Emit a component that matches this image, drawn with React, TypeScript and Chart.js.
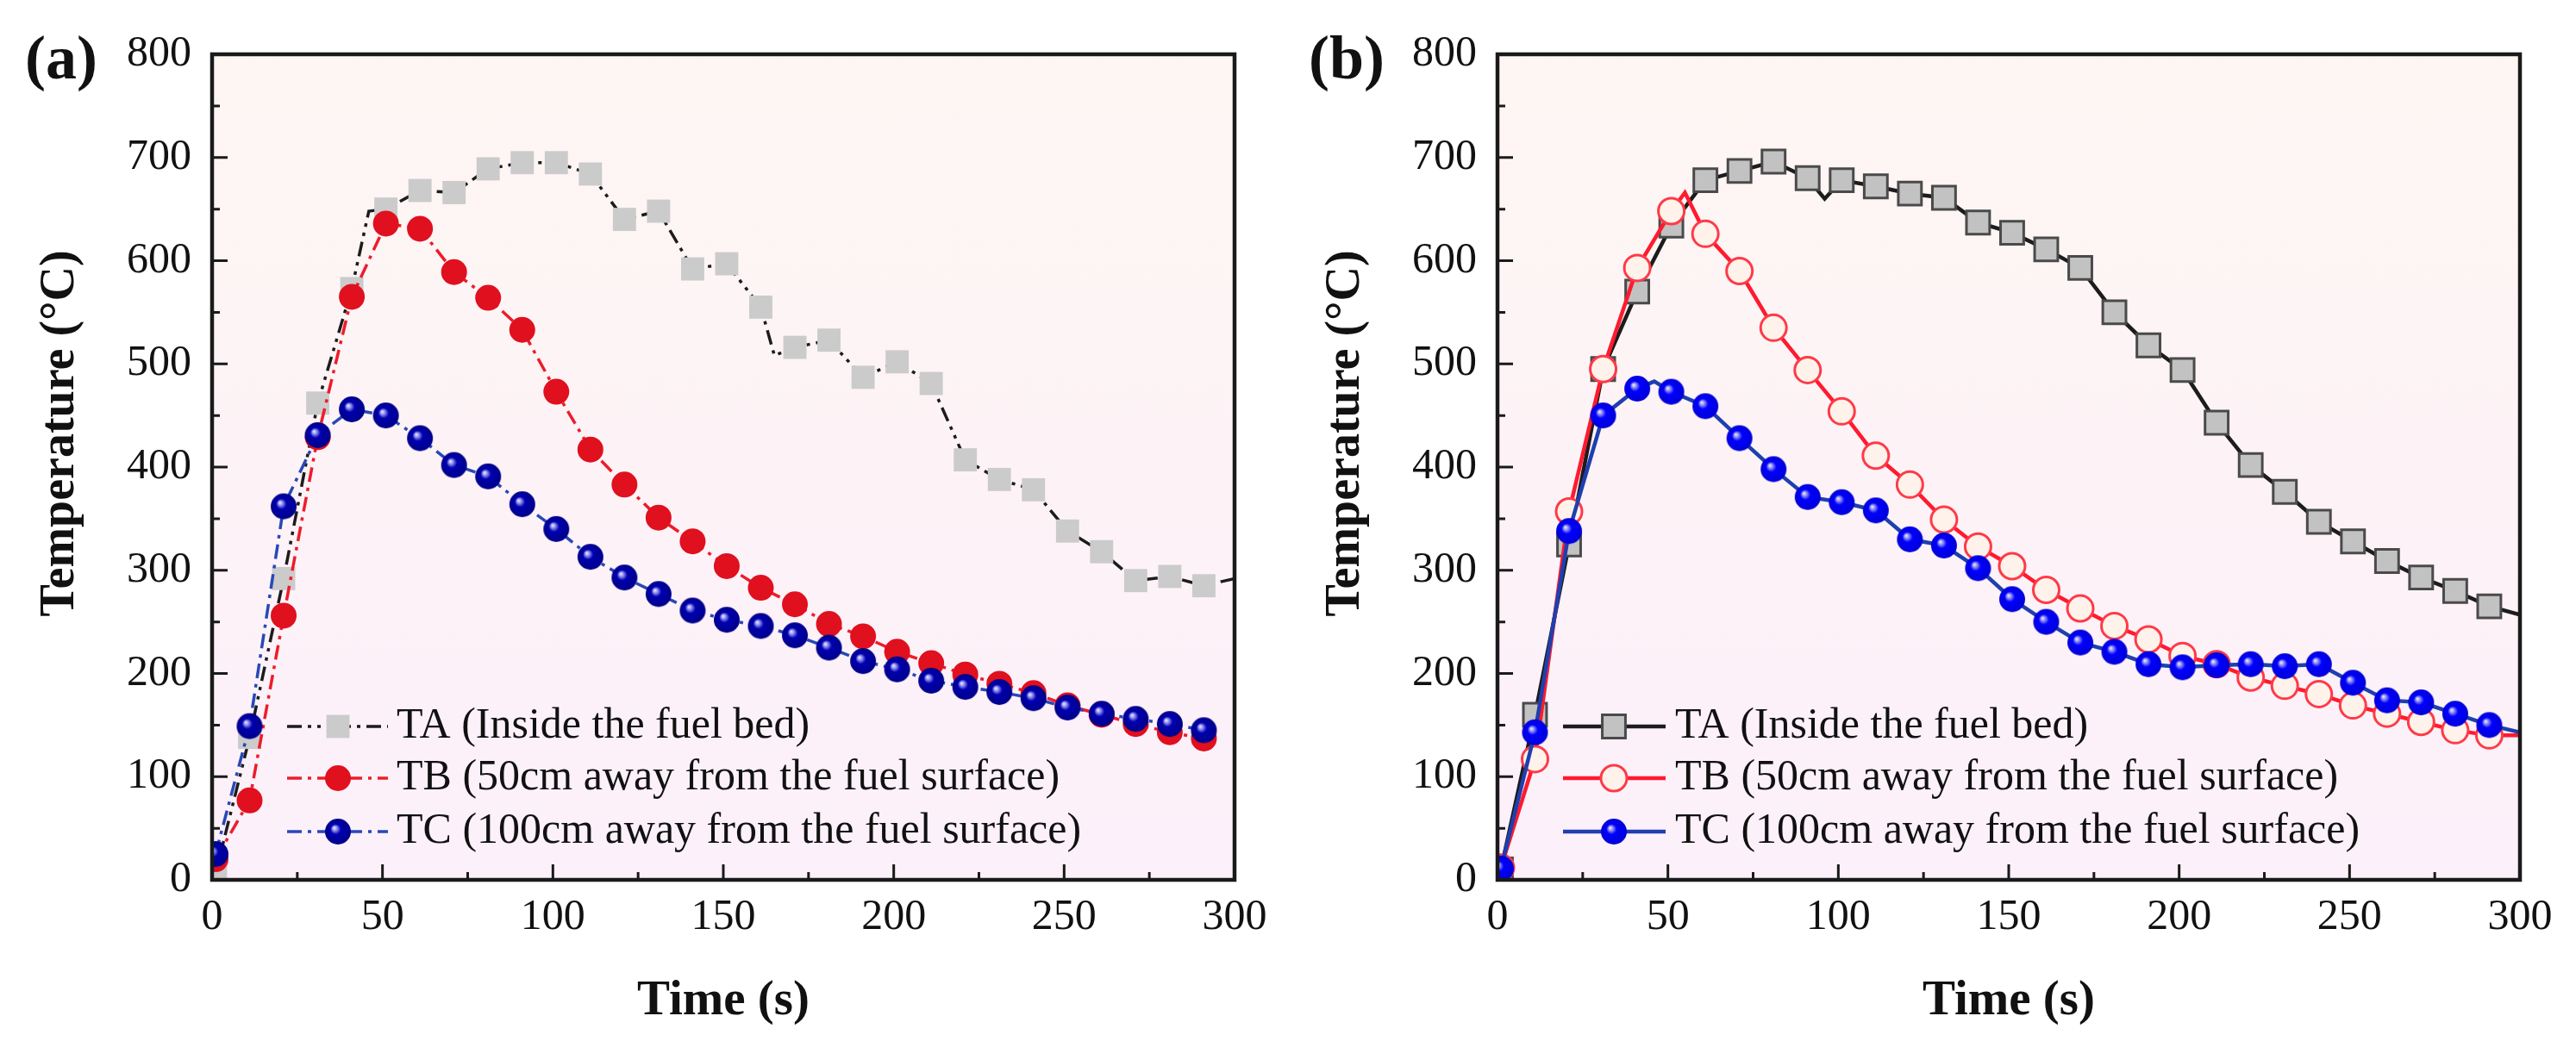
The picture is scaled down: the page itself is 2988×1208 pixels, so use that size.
import React, { useEffect, useRef } from 'react';
import { Chart, registerables } from 'chart.js';

Chart.register(...registerables);

const FONT = "'Liberation Serif', 'Times New Roman', serif";

// axis ranges
const X_MAX = 300;
const X_STEP = 50;
const Y_MAX = 800;
const Y_STEP = 100;

// marker times (s), one marker every 10 s
const MARK_T = [1, 11, 21, 31, 41, 51, 61, 71, 81, 91, 101, 111, 121, 131, 141,
  151, 161, 171, 181, 191, 201, 211, 221, 231, 241, 251, 261, 271, 281, 291];

// (a) temperatures, degC
const TA_A = [6, 138, 292, 462, 573, 650, 668, 666, 689, 695, 695, 684, 640, 648, 592,
  597, 555, 516, 523, 487, 502, 481, 407, 388, 378, 338, 318, 290, 294, 285];
const TB_A = [20, 77, 256, 429, 565, 636, 631, 589, 564, 533, 473, 417, 383, 351, 328,
  304, 283, 267, 248, 236, 221, 210, 199, 190, 181, 169, 160, 151, 143, 137];
const TC_A = [25, 149, 362, 431, 456, 450, 428, 402, 391, 364, 340, 313, 293, 277, 261,
  252, 246, 237, 225, 212, 204, 193, 187, 182, 176, 167, 161, 156, 151, 145];

// (b) temperatures, degC
const TA_B = [10, 160, 325, 495, 570, 634, 678, 687, 696, 680, 678, 672, 665, 661, 637,
  627, 611, 593, 550, 518, 494, 443, 402, 376, 347, 328, 309, 293, 280, 265];
const TB_B = [12, 117, 357, 495, 593, 648, 626, 590, 535, 494, 454, 411, 383, 349, 323,
  304, 281, 263, 246, 233, 217, 209, 196, 188, 180, 169, 161, 153, 145, 140];
const TC_B = [11, 143, 338, 450, 476, 473, 459, 428, 398, 371, 366, 358, 330, 324, 302,
  272, 250, 230, 221, 209, 206, 208, 209, 207, 209, 191, 174, 172, 161, 150];

// line-only samples between markers
const TA_A_EXTRA_T = [46, 165, 300];
const TA_A_EXTRA_V = [648, 508, 292];
const TA_B_EXTRA_T = [96, 300];
const TA_B_EXTRA_V = [660, 257];
const TB_B_EXTRA_T = [55, 300];
const TB_B_EXTRA_V = [666, 140];
const TC_B_EXTRA_T = [46, 300];
const TC_B_EXTRA_V = [483, 143];

const LABELS = [
  'TA (Inside the fuel bed)',
  'TB (50cm away from the fuel surface)',
  'TC (100cm away from the fuel surface)',
];

type Pt = { x: number; y: number; mark: boolean };

function buildPoints(markV: number[], extraT: number[] = [], extraV: number[] = []): Pt[] {
  const pts: Pt[] = MARK_T.map((t, i) => ({ x: t, y: markV[i], mark: true }));
  extraT.forEach((t, i) => pts.push({ x: t, y: extraV[i], mark: false }));
  return pts.sort((p, q) => p.x - q.x);
}

interface SeriesSpec {
  label: string;
  points: Pt[];
  line: string;
  lineWidth: number;
  dash: number[];
  marker: 'rect' | 'circle' | 'sphere';
  radius: number;
  fill: string;
  stroke?: string;
  strokeWidth?: number;
  sphere?: [string, string];
}

const DASH_DOT_DOT = [17, 7, 4, 7, 4, 7];
const DASH_DOT = [17, 7, 4, 7];

const SERIES_A: SeriesSpec[] = [
  { label: LABELS[0], points: buildPoints(TA_A, TA_A_EXTRA_T, TA_A_EXTRA_V), line: '#1c1c1c', lineWidth: 3.5,
    dash: DASH_DOT_DOT, marker: 'rect', radius: 19, fill: '#cbcbcb' },
  { label: LABELS[1], points: buildPoints(TB_A), line: '#ee1c2a', lineWidth: 3.5,
    dash: DASH_DOT, marker: 'circle', radius: 15, fill: '#e0101f' },
  { label: LABELS[2], points: buildPoints(TC_A), line: '#2848b8', lineWidth: 3.5,
    dash: DASH_DOT, marker: 'sphere', radius: 15, fill: '#0000b0', sphere: ['#0000b0', '#00008a'] },
];

const SERIES_B: SeriesSpec[] = [
  { label: LABELS[0], points: buildPoints(TA_B, TA_B_EXTRA_T, TA_B_EXTRA_V), line: '#1c1c1c', lineWidth: 4.5,
    dash: [], marker: 'rect', radius: 19, fill: '#c2c2c2', stroke: '#4a4a4a', strokeWidth: 3 },
  { label: LABELS[1], points: buildPoints(TB_B, TB_B_EXTRA_T, TB_B_EXTRA_V), line: '#ff1a2e', lineWidth: 4.5,
    dash: [], marker: 'circle', radius: 15, fill: '#fff2ea', stroke: '#ff3a48', strokeWidth: 3 },
  { label: LABELS[2], points: buildPoints(TC_B, TC_B_EXTRA_T, TC_B_EXTRA_V), line: '#1f3fb0', lineWidth: 4.5,
    dash: [], marker: 'sphere', radius: 15, fill: '#0000ff', sphere: ['#0000ff', '#0000d8'] },
];

function makeSphere(r: number, core: string, edge: string) {
  const c = document.createElement('canvas');
  const s = Math.ceil(r * 2) + 2;
  c.width = s; c.height = s;
  const g = c.getContext('2d')!;
  const cx = s / 2, cy = s / 2;
  const grad = g.createRadialGradient(cx - r * 0.3, cy - r * 0.3, 0, cx, cy, r);
  grad.addColorStop(0, '#f4f4ff');
  grad.addColorStop(0.18, '#9090f0');
  grad.addColorStop(0.4, core);
  grad.addColorStop(1, edge);
  g.fillStyle = grad;
  g.beginPath(); g.arc(cx, cy, r, 0, Math.PI * 2); g.fill();
  return c;
}

interface PanelProps {
  left: number;
  tag: string;
  series: SeriesSpec[];
  legendX: [number, number, number, number]; // line start, line end, marker, text (from plot left)
}

const W = 1494;
const H = 1208;

function Panel({ left, tag, series, legendX }: PanelProps) {
  const canvasRef = useRef<HTMLCanvasElement>(null);

  useEffect(() => {
    if (!canvasRef.current) return;
    const spheres = series.map(s => s.marker === 'sphere' && s.sphere ? makeSphere(s.radius, s.sphere[0], s.sphere[1]) : null);

    const drawMarker = (ctx: CanvasRenderingContext2D, s: SeriesSpec, img: HTMLCanvasElement | null, x: number, y: number) => {
      if (img) { ctx.drawImage(img, x - img.width / 2, y - img.height / 2); return; }
      ctx.beginPath();
      if (s.marker === 'rect') {
        const h = s.radius * Math.SQRT1_2;
        ctx.rect(x - h, y - h, 2 * h, 2 * h);
      } else {
        ctx.arc(x, y, s.radius, 0, Math.PI * 2);
      }
      ctx.fillStyle = s.fill; ctx.fill();
      if (s.strokeWidth) { ctx.lineWidth = s.strokeWidth; ctx.strokeStyle = s.stroke!; ctx.stroke(); }
    };

    const deco = {
      id: 'deco',
      beforeDraw(chart: Chart) {
        const { ctx, chartArea: a } = chart;
        const g = ctx.createLinearGradient(0, a.top, 0, a.bottom);
        g.addColorStop(0, '#fef6f3');
        g.addColorStop(1, '#fcf0fa');
        ctx.save();
        ctx.fillStyle = g;
        ctx.fillRect(a.left, a.top, a.width, a.height);
        ctx.restore();
      },
      afterDatasetsDraw(chart: Chart) {
        const { ctx, chartArea: a } = chart;
        const xs = chart.scales.x, ys = chart.scales.y;
        ctx.save();
        // inward ticks
        ctx.strokeStyle = '#1a1a1a'; ctx.lineWidth = 3;
        ctx.beginPath();
        for (let v = 0; v <= Y_MAX; v += Y_STEP / 2) {
          const y = ys.getPixelForValue(v);
          const len = v % Y_STEP === 0 ? 18 : 9;
          ctx.moveTo(a.left, y); ctx.lineTo(a.left + len, y);
        }
        for (let t = 0; t <= X_MAX; t += X_STEP / 2) {
          const x = xs.getPixelForValue(t);
          const len = t % X_STEP === 0 ? 18 : 9;
          ctx.moveTo(x, a.bottom); ctx.lineTo(x, a.bottom - len);
        }
        ctx.stroke();
        // frame
        ctx.lineWidth = 4.5;
        ctx.strokeRect(a.left, a.top, a.width, a.height);

        // legend
        const rows = [843, 903, 965];
        ctx.font = `50px ${FONT}`;
        ctx.textBaseline = 'middle';
        ctx.textAlign = 'left';
        series.forEach((s, i) => {
          const y = rows[i];
          ctx.save();
          ctx.strokeStyle = s.line; ctx.lineWidth = s.lineWidth;
          ctx.setLineDash(s.dash);
          ctx.beginPath();
          ctx.moveTo(a.left + legendX[0], y); ctx.lineTo(a.left + legendX[1], y);
          ctx.stroke();
          ctx.restore();
          drawMarker(ctx, s, spheres[i], a.left + legendX[2], y);
          ctx.fillStyle = '#111';
          ctx.fillText(s.label, a.left + legendX[3], y);
        });
        ctx.restore();
      },
      afterDraw(chart: Chart) {
        const { ctx, chartArea: a } = chart;
        ctx.save();
        ctx.fillStyle = '#111';
        ctx.font = `bold 72px ${FONT}`;
        ctx.textAlign = 'center';
        ctx.textBaseline = 'middle';
        ctx.fillText(tag, a.left - 175, 72);

        ctx.font = `bold 57px ${FONT}`;
        ctx.textBaseline = 'alphabetic';
        ctx.fillText('Time (s)', (a.left + a.right) / 2, a.bottom + 156);

        ctx.font = `bold 56px ${FONT}`;
        ctx.translate(a.left - 161, a.top + 440);
        ctx.rotate(-Math.PI / 2);
        ctx.fillText('Temperature (°C)', 0, 0);
        ctx.restore();
      },
    };

    const chart = new Chart(canvasRef.current, {
      type: 'line',
      data: {
        datasets: series.map((s, i) => ({
          label: s.label,
          data: s.points,
          order: 3 - i,
          borderColor: s.line,
          borderWidth: s.lineWidth,
          borderDash: s.dash,
          tension: 0,
          fill: false,
          pointStyle: spheres[i] ?? s.marker,
          pointRadius: (c: any) => (c.raw && c.raw.mark ? s.radius : 0),
          pointHoverRadius: (c: any) => (c.raw && c.raw.mark ? s.radius : 0),
          pointBackgroundColor: s.fill,
          pointBorderColor: s.stroke ?? s.fill,
          pointBorderWidth: s.strokeWidth ?? 0,
        })),
      },
      options: {
        responsive: false,
        animation: false,
        devicePixelRatio: 1,
        events: [],
        layout: { padding: { left: 0, top: 63, right: W - 1432, bottom: H - 1021 - 110 } },
        plugins: { legend: { display: false }, tooltip: { enabled: false } },
        scales: {
          x: {
            type: 'linear', min: 0, max: X_MAX,
            ticks: { stepSize: X_STEP, color: '#111', padding: 14, font: { family: FONT, size: 50 } },
            grid: { display: false, drawTicks: false },
            border: { display: false },
            afterFit: (sc: any) => { sc.height = 110; },
          },
          y: {
            type: 'linear', min: 0, max: Y_MAX,
            ticks: { stepSize: Y_STEP, color: '#111', padding: 24, font: { family: FONT, size: 50 } },
            grid: { display: false, drawTicks: false },
            border: { display: false },
            afterFit: (sc: any) => { sc.width = 246; },
          },
        },
      } as any,
      plugins: [deco as any],
    });
    return () => { chart.destroy(); };
  }, [series, tag, legendX]);

  return (
    <canvas
      ref={canvasRef}
      width={W}
      height={H}
      style={{ position: 'absolute', left, top: 0, width: W, height: H }}
    />
  );
}

const LEGEND_A: [number, number, number, number] = [87, 204, 146, 214];
const LEGEND_B: [number, number, number, number] = [76, 195, 135, 206];

export default function App() {
  return (
    <div style={{ position: 'absolute', left: 0, top: 0, width: 2988, height: 1208, background: '#fff', overflow: 'hidden' }}>
      <Panel left={0} tag="(a)" series={SERIES_A} legendX={LEGEND_A} />
      <Panel left={1491} tag="(b)" series={SERIES_B} legendX={LEGEND_B} />
    </div>
  );
}
